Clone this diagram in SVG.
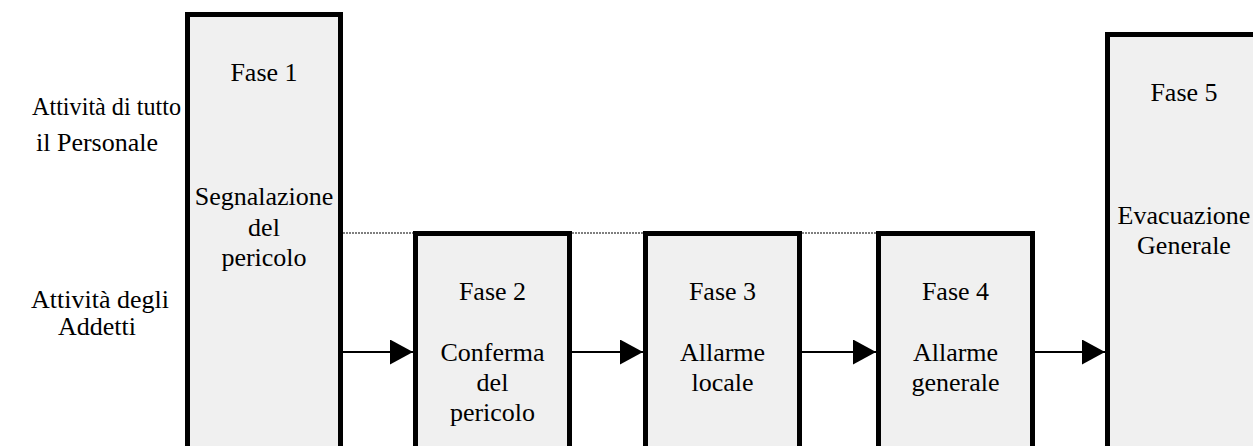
<svg xmlns="http://www.w3.org/2000/svg" width="1253" height="446" viewBox="0 0 1253 446">
<style>
.box{fill:#f0f0f0;stroke:#000;stroke-width:5}
.t{font-family:"Times New Roman","Liberation Serif",Tinos,"DejaVu Serif",serif;font-size:26px;fill:#000;text-anchor:middle}
.ts{font-family:"Times New Roman","Liberation Serif",Tinos,"DejaVu Serif",serif;font-size:26px;fill:#000}
.arr{stroke:#000;stroke-width:2;fill:none;marker-end:url(#ah)}
.dot{stroke:#555;stroke-width:1.5;stroke-dasharray:2,1;fill:none}
</style>
<defs>
<marker id="ah" markerUnits="userSpaceOnUse" markerWidth="24" markerHeight="26" refX="23" refY="12.5" orient="auto">
<path d="M0,0 L23,12.5 L0,25 Z" fill="#000"/>
</marker>
</defs>
<rect width="1253" height="446" fill="#fff"/>
<g id="labels">
<text class="ts" x="32" y="115" textLength="149" lengthAdjust="spacingAndGlyphs">Attività di tutto</text>
<text class="t" x="97" y="151">il Personale</text>
<text class="t" x="100" y="308">Attività degli</text>
<text class="t" x="97" y="335">Addetti</text>
</g>
<g id="connectors">
<line class="dot" x1="343" y1="233" x2="413" y2="233"/>
<line class="dot" x1="572" y1="233" x2="643" y2="233"/>
<line class="dot" x1="802" y1="233" x2="876" y2="233"/>
<line class="arr" x1="343" y1="352" x2="413" y2="352"/>
<line class="arr" x1="572" y1="352" x2="643" y2="352"/>
<line class="arr" x1="802" y1="352" x2="876" y2="352"/>
<line class="arr" x1="1035" y1="352" x2="1105" y2="352"/>
</g>
<g id="fase1">
<rect class="box" x="187.5" y="14.5" width="153" height="450"/>
<text class="t" x="264" y="81">Fase 1</text>
<text class="t" x="264" y="205">Segnalazione</text>
<text class="t" x="264" y="236">del</text>
<text class="t" x="264" y="266">pericolo</text>
</g>
<g id="fase2">
<rect class="box" x="415.5" y="233.5" width="154" height="250"/>
<text class="t" x="492.5" y="300">Fase 2</text>
<text class="t" x="492.5" y="361">Conferma</text>
<text class="t" x="492.5" y="391">del</text>
<text class="t" x="492.5" y="421">pericolo</text>
</g>
<g id="fase3">
<rect class="box" x="645.5" y="233.5" width="154" height="250"/>
<text class="t" x="722.5" y="300">Fase 3</text>
<text class="t" x="722.5" y="361">Allarme</text>
<text class="t" x="722.5" y="391">locale</text>
</g>
<g id="fase4">
<rect class="box" x="878.5" y="233.5" width="154" height="250"/>
<text class="t" x="955.5" y="300">Fase 4</text>
<text class="t" x="955.5" y="361">Allarme</text>
<text class="t" x="955.5" y="391">generale</text>
</g>
<g id="fase5">
<rect class="box" x="1107.5" y="34.5" width="154" height="450"/>
<text class="t" x="1184" y="101">Fase 5</text>
<text class="t" x="1184" y="224">Evacuazione</text>
<text class="t" x="1184" y="254">Generale</text>
</g>
</svg>
